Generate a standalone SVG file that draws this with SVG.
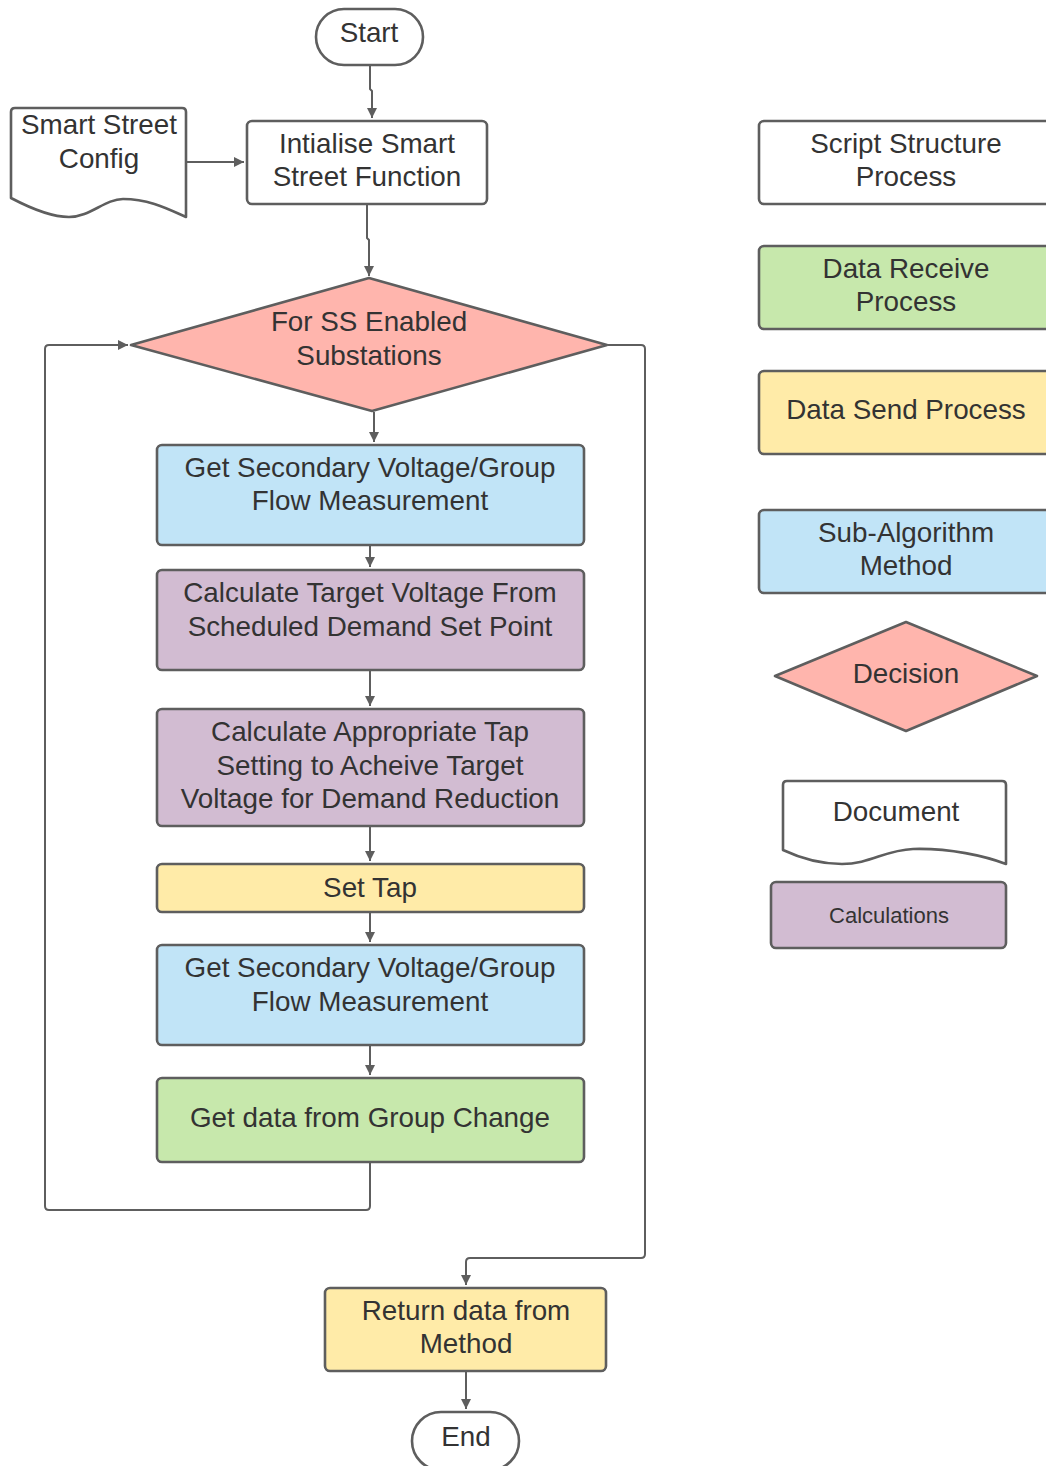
<svg xmlns="http://www.w3.org/2000/svg" width="1046" height="1466" viewBox="0 0 1046 1466">
<style>
  .shape{stroke:#5e5e5e;stroke-width:2.6;stroke-linejoin:round}
  .white{fill:#ffffff}
  .blue{fill:#c1e4f7}
  .purple{fill:#d2bcd2}
  .yellow{fill:#ffeba8}
  .green{fill:#c7e8ac}
  .red{fill:#ffb5ad}
  text{font-family:"Liberation Sans",Arial,sans-serif;font-size:27.8px;fill:#333333;text-anchor:middle}
  .small{font-size:22px}
  .conn{fill:none;stroke:#5e5e5e;stroke-width:2;stroke-linejoin:round}
</style>
<defs>
  <marker id="arr" viewBox="0 0 10 10" refX="10" refY="5" markerWidth="11" markerHeight="10" markerUnits="userSpaceOnUse" orient="auto">
    <path d="M0,0 L10,5 L0,10 Z" fill="#5e5e5e"/>
  </marker>
</defs>
<rect width="1046" height="1466" fill="#ffffff"/>

<g id="connectors">
  <path class="conn" d="M370,66 V89 L372,91 V118" marker-end="url(#arr)"/>
  <path class="conn" d="M187,162 H244" marker-end="url(#arr)"/>
  <path class="conn" d="M367,205 V238 L369,240 V276" marker-end="url(#arr)"/>
  <path class="conn" d="M374,412 V442" marker-end="url(#arr)"/>
  <path class="conn" d="M370,546 V567" marker-end="url(#arr)"/>
  <path class="conn" d="M370,671 V706" marker-end="url(#arr)"/>
  <path class="conn" d="M370,827 V861" marker-end="url(#arr)"/>
  <path class="conn" d="M370,913 V942" marker-end="url(#arr)"/>
  <path class="conn" d="M370,1046 V1075" marker-end="url(#arr)"/>
  <path class="conn" d="M370,1163 V1206 Q370,1210 366,1210 H49 Q45,1210 45,1206 V349 Q45,345 49,345 H128" marker-end="url(#arr)"/>
  <path class="conn" d="M608,345 H641 Q645,345 645,349 V1254 Q645,1258 641,1258 H470 Q466,1258 466,1262 V1285" marker-end="url(#arr)"/>
  <path class="conn" d="M466,1372 V1409" marker-end="url(#arr)"/>
</g>

<g id="start">
  <rect class="shape white" x="316" y="9" width="107" height="56" rx="28"/>
  <text x="369" y="42">Start</text>
</g>

<g id="smart-street-config">
  <path class="shape white" d="M15,108 H182 Q186,108 186,112 V217 C170,210 150,199 123,199 C105,199 90,217 69,217 C50,217 30,208 11,198 V112 Q11,108 15,108 Z"/>
  <text x="99" y="134">Smart Street</text>
  <text x="99" y="168">Config</text>
</g>

<g id="init">
  <rect class="shape white" x="247" y="121" width="240" height="83" rx="5"/>
  <text x="367" y="153">Intialise Smart</text>
  <text x="367" y="186">Street Function</text>
</g>

<g id="decision-ss">
  <path class="shape red" d="M131,345 L369,278 L607,345 L372,411 Z"/>
  <text x="369" y="331">For SS Enabled</text>
  <text x="369" y="365">Substations</text>
</g>

<g id="get-secondary-1">
  <rect class="shape blue" x="157" y="445" width="427" height="100" rx="5"/>
  <text x="370" y="477">Get Secondary Voltage/Group</text>
  <text x="370" y="510">Flow Measurement</text>
</g>

<g id="calc-target">
  <rect class="shape purple" x="157" y="570" width="427" height="100" rx="5"/>
  <text x="370" y="602">Calculate Target Voltage From</text>
  <text x="370" y="636">Scheduled Demand Set Point</text>
</g>

<g id="calc-tap">
  <rect class="shape purple" x="157" y="709" width="427" height="117" rx="5"/>
  <text x="370" y="741">Calculate Appropriate Tap</text>
  <text x="370" y="775">Setting to Acheive Target</text>
  <text x="370" y="808">Voltage for Demand Reduction</text>
</g>

<g id="set-tap">
  <rect class="shape yellow" x="157" y="864" width="427" height="48" rx="5"/>
  <text x="370" y="897">Set Tap</text>
</g>

<g id="get-secondary-2">
  <rect class="shape blue" x="157" y="945" width="427" height="100" rx="5"/>
  <text x="370" y="977">Get Secondary Voltage/Group</text>
  <text x="370" y="1011">Flow Measurement</text>
</g>

<g id="group-change">
  <rect class="shape green" x="157" y="1078" width="427" height="84" rx="5"/>
  <text x="370" y="1127">Get data from Group Change</text>
</g>

<g id="return-data">
  <rect class="shape yellow" x="325" y="1288" width="281" height="83" rx="5"/>
  <text x="466" y="1320">Return data from</text>
  <text x="466" y="1353">Method</text>
</g>

<g id="end">
  <rect class="shape white" x="412" y="1412" width="107" height="58" rx="29"/>
  <text x="466" y="1446">End</text>
</g>

<g id="legend-script">
  <rect class="shape white" x="759" y="121" width="294" height="83" rx="5"/>
  <text x="906" y="153">Script Structure</text>
  <text x="906" y="186">Process</text>
</g>

<g id="legend-receive">
  <rect class="shape green" x="759" y="246" width="294" height="83" rx="5"/>
  <text x="906" y="278">Data Receive</text>
  <text x="906" y="311">Process</text>
</g>

<g id="legend-send">
  <rect class="shape yellow" x="759" y="371" width="294" height="83" rx="5"/>
  <text x="906" y="419">Data Send Process</text>
</g>

<g id="legend-subalg">
  <rect class="shape blue" x="759" y="510" width="294" height="83" rx="5"/>
  <text x="906" y="542">Sub-Algorithm</text>
  <text x="906" y="575">Method</text>
</g>

<g id="legend-decision">
  <path class="shape red" d="M775,676 L906,622 L1037,676 L906,731 Z"/>
  <text x="906" y="683">Decision</text>
</g>

<g id="legend-document">
  <path class="shape white" d="M787,781 H1002 Q1006,781 1006,785 V864 C985,856 950,848 913,849 C885,850 870,864 842,864 C820,864 800,858 783,850 V785 Q783,781 787,781 Z"/>
  <text x="896" y="821">Document</text>
</g>

<g id="legend-calculations">
  <rect class="shape purple" x="771" y="882" width="235" height="66" rx="5"/>
  <text class="small" x="889" y="923">Calculations</text>
</g>
</svg>
